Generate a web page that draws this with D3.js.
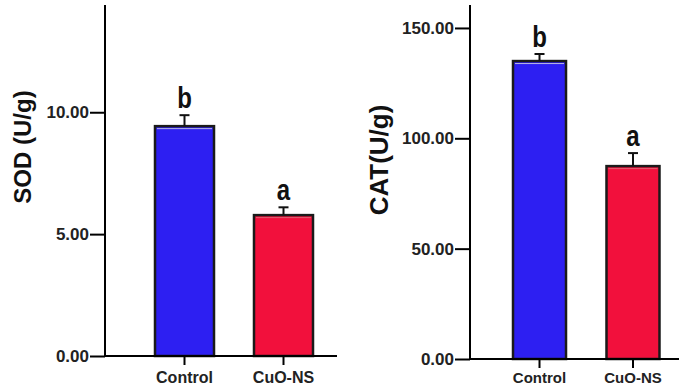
<!DOCTYPE html>
<html>
<head>
<meta charset="utf-8">
<title>SOD / CAT</title>
<style>
body { margin: 0; background-color: #ffffff; }
svg text { font-family: "Liberation Sans", Arial, sans-serif; }
</style>
</head>
<body>
<script src="https://cdn.jsdelivr.net/npm/d3@7"></script>
<script>

var groups = ["Control", "CuO-NS"];
var colors = ["#2d1ff2", "#f2103c"];
var sodMean = [9.43, 5.78];
var sodErr = [0.45, 0.32];
var sodLetters = ["b", "a"];
var sodTicks = [0, 5, 10];
var catMean = [135.0, 87.4];
var catErr = [3.2, 5.9];
var catLetters = ["b", "a"];
var catTicks = [0, 50, 100, 150];

var w = 685, h = 391;

var svg = d3.select("body")
            .append("svg")
            .attr("width", w)
            .attr("height", h);

function panel(opt) {
  var g = svg.append("g");

  var y = d3.scaleLinear()
            .domain(opt.domain)
            .range([opt.y0, opt.y1]);

  var x = d3.scaleBand()
            .domain(groups)
            .range([opt.xLeft, opt.xRight])
            .paddingInner(opt.padIn)
            .paddingOuter(opt.padOut);

  // bars
  g.selectAll("rect.bar")
    .data(groups)
    .enter()
    .append("rect")
    .attr("class", "bar")
    .attr("x", function(d) { return x(d); })
    .attr("y", function(d, i) { return y(opt.mean[i]); })
    .attr("width", x.bandwidth())
    .attr("height", function(d, i) { return y(0) - y(opt.mean[i]); })
    .attr("fill", function(d, i) { return colors[i]; })
    .attr("stroke", "#1a1a1a")
    .attr("stroke-width", 2.5);

  // thin light line inside top of bars
  g.selectAll("line.hl")
    .data(groups)
    .enter()
    .append("line")
    .attr("x1", function(d) { return x(d) + 2; })
    .attr("x2", function(d) { return x(d) + x.bandwidth() - 2; })
    .attr("y1", function(d, i) { return y(opt.mean[i]) + 2.5; })
    .attr("y2", function(d, i) { return y(opt.mean[i]) + 2.5; })
    .attr("stroke", function(d, i) { return i == 0 ? "#b8b8e0" : "#e06070"; })
    .attr("stroke-width", 1);

  // error bars
  g.selectAll("line.err")
    .data(groups)
    .enter()
    .append("line")
    .attr("x1", function(d) { return x(d) + x.bandwidth() / 2; })
    .attr("x2", function(d) { return x(d) + x.bandwidth() / 2; })
    .attr("y1", function(d, i) { return y(opt.mean[i]); })
    .attr("y2", function(d, i) { return y(opt.mean[i] + opt.err[i]); })
    .attr("stroke", "#111")
    .attr("stroke-width", 2);

  g.selectAll("line.cap")
    .data(groups)
    .enter()
    .append("line")
    .attr("x1", function(d) { return x(d) + x.bandwidth() / 2 - 5; })
    .attr("x2", function(d) { return x(d) + x.bandwidth() / 2 + 5; })
    .attr("y1", function(d, i) { return y(opt.mean[i] + opt.err[i]); })
    .attr("y2", function(d, i) { return y(opt.mean[i] + opt.err[i]); })
    .attr("stroke", "#111")
    .attr("stroke-width", 2);

  // letters
  g.selectAll("text.letter")
    .data(groups)
    .enter()
    .append("text")
    .text(function(d, i) { return opt.letters[i]; })
    .attr("text-anchor", "middle")
    .attr("font-size", "30px")
    .attr("font-weight", "bold")
    .attr("fill", "#111")
    .attr("transform", function(d, i) {
      var cx = x(d) + x.bandwidth() / 2;
      var cy = y(opt.mean[i] + opt.err[i]) - 7;
      return "translate(" + cx + "," + cy + ") scale(0.8,1)";
    });

  // y axis
  var yAxis = g.append("g")
    .attr("transform", "translate(" + opt.xLeft + ",0)")
    .call(d3.axisLeft(y).tickValues(opt.ticks).tickSize(15).tickPadding(1)
      .tickFormat(d3.format(".2f")));
  yAxis.select(".domain").attr("stroke-width", 2).attr("d", "M0," + opt.y0 + "V5");
  yAxis.selectAll(".tick line").attr("stroke-width", 2);
  yAxis.selectAll(".tick text")
    .attr("font-size", "17px")
    .attr("font-weight", "bold")
    .attr("fill", "#222");

  // x axis
  var xAxis = g.append("g")
    .attr("transform", "translate(0," + opt.y0 + ")")
    .call(d3.axisBottom(x).tickSize(9).tickPadding(opt.xPad));
  xAxis.select(".domain").attr("stroke-width", 2)
    .attr("d", "M" + opt.xLeft + ",0H" + opt.xEnd);
  xAxis.selectAll(".tick line").attr("stroke-width", 2);
  xAxis.selectAll(".tick text")
    .attr("font-size", opt.xFont)
    .attr("font-weight", "bold")
    .attr("fill", "#222");

  // y label
  g.append("text")
    .text(opt.label)
    .attr("transform", "translate(" + opt.labelX + "," + opt.labelY + ") rotate(-90)")
    .attr("text-anchor", "middle")
    .attr("font-size", opt.labelFont)
    .attr("font-weight", "bold")
    .attr("fill", "#111");
}

panel({
  mean: sodMean, err: sodErr, letters: sodLetters, ticks: sodTicks,
  domain: [0, 14.4], y0: 356, y1: 5,
  xLeft: 105, xRight: 363, xEnd: 337, padIn: 0.404, padOut: 0.505,
  xPad: 7, xFont: "16px",
  label: "SOD (U/g)", labelX: 31, labelY: 147, labelFont: "24px"
});

panel({
  mean: catMean, err: catErr, letters: catLetters, ticks: catTicks,
  domain: [0, 160.4], y0: 359, y1: 5,
  xLeft: 470, xRight: 702.5, xEnd: 679, padIn: 0.433, padOut: 0.46,
  xPad: 4, xFont: "15px",
  label: "CAT(U/g)", labelX: 388, labelY: 160, labelFont: "26px"
});

</script>
</body>
</html>
